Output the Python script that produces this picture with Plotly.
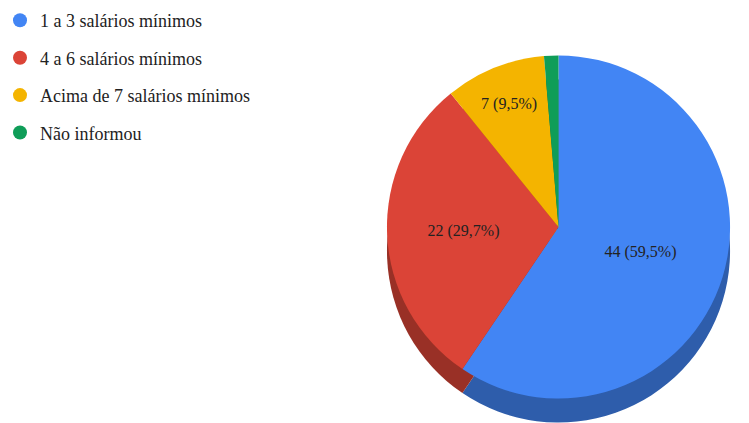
import plotly.graph_objects as go

categories = ["1 a 3 salários mínimos", "4 a 6 salários mínimos",
              "Acima de 7 salários mínimos", "Não informou"]
values = [44, 22, 7, 1]
colors = ["#4285F4", "#DB4437", "#F4B400", "#0F9D58"]
side_colors = ["#2E5DAB", "#993026", "#AA7D00", "#0A6D3D"]
label_templates = ["%{value} (%{percent:.1%})"] * 3 + [""]

W, H = 749, 423
cx, cy, r, depth = 558, 227, 172, 24
SERIF = "Liberation Serif, Times New Roman, DejaVu Serif, serif"


def dom(cx_, cy_, r_):
    return dict(x=[(cx_ - r_) / W, (cx_ + r_) / W],
                y=[max(0, 1 - (cy_ + r_) / H), 1 - (cy_ - r_) / H])


fig = go.Figure()

# darker "side" of the 3D pie, drawn behind and shifted down
fig.add_trace(go.Pie(
    labels=categories, values=values, sort=False, direction="clockwise",
    marker=dict(colors=side_colors, line=dict(width=0)),
    textinfo="none", hoverinfo="skip", showlegend=False,
    domain=dom(cx, cy + depth, r),
))

fig.add_trace(go.Pie(
    labels=categories, values=values, sort=False, direction="clockwise",
    marker=dict(colors=colors, line=dict(width=0)),
    texttemplate=label_templates, textposition="inside",
    insidetextorientation="horizontal",
    textfont=dict(family=SERIF, size=16, color="#222222"),
    showlegend=False, domain=dom(cx, cy, r),
))

# legend entries with circular symbols
for name, c in zip(categories, colors):
    fig.add_trace(go.Scatter(
        x=[None], y=[None], mode="markers", name=name, legendgroup=name,
        marker=dict(symbol="circle", size=14, color=c),
    ))

fig.update_layout(
    width=W, height=H, margin=dict(l=0, r=0, t=0, b=0),
    paper_bgcolor="white", plot_bgcolor="white",
    separators=",.",
    font=dict(family=SERIF),
    xaxis=dict(visible=False), yaxis=dict(visible=False),
    legend=dict(x=-0.003, y=0.995, xanchor="left", yanchor="top",
                traceorder="grouped", tracegroupgap=11,
                font=dict(family=SERIF, size=18, color="#222222"),
                itemclick=False, itemdoubleclick=False),
)

fig.write_html("out.html")
